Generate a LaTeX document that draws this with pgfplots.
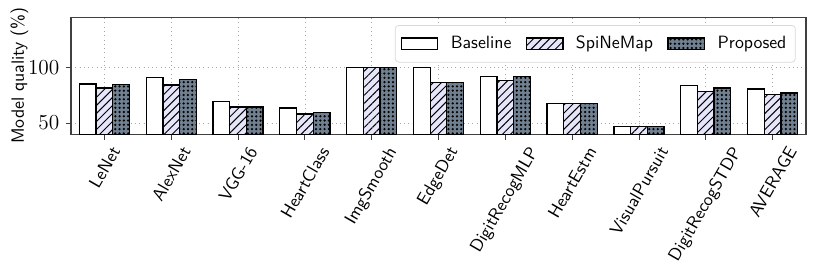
\documentclass[border=0pt]{standalone}
\usepackage{pgfplots}
\pgfplotsset{compat=1.18}
\usetikzlibrary{patterns.meta}
\definecolor{lav}{RGB}{230,230,250}
\definecolor{slate}{RGB}{112,128,144}
\definecolor{framec}{RGB}{64,64,64}
\begin{document}
\begin{tikzpicture}
\begin{axis}[
  scale only axis,
  width=413pt, height=65.8pt,
  ybar=0pt, bar width=0.25,
  xmin=-0.5, xmax=10.5,
  ymin=40, ymax=145,
  ytick={50,100},
  yticklabel style={font=\fontsize{11.5}{13}\selectfont},
  xtick={0,...,10},
  xticklabels={\rotatebox{60}{LeNet},\rotatebox{60}{AlexNet},\rotatebox{60}{VGG-16},\rotatebox{60}{HeartClass},\rotatebox{60}{ImgSmooth},\rotatebox{60}{EdgeDet},\rotatebox{60}{DigitRecogMLP},\rotatebox{60}{HeartEstm},\rotatebox{60}{VisualPursuit},\rotatebox{60}{DigitRecogSTDP},\rotatebox{60}{AVERAGE}},
  xticklabel style={font=\sffamily, anchor=north, inner sep=0pt, yshift=-3pt},
  tick align=outside, tick pos=left,
  major tick length=3pt,
  tick style={framec, line width=0.5pt},
  axis line style={framec, line width=0.6pt},
  grid=major,
  grid style={dotted, gray!70, line width=0.4pt},
  ylabel={\sffamily Model quality (\%)},
  ylabel style={yshift=-7pt},
  legend style={at={(0.986,0.932)}, anchor=north east, legend columns=3,
    draw=gray!30, rounded corners=2pt, font=\sffamily,
    /tikz/every odd column/.append style={column sep=5pt},
    /tikz/every even column/.append style={column sep=6pt},
    inner xsep=3pt, inner ysep=4pt},
  legend image code/.code={\draw[#1, sharp corners] (0pt,-3.2pt) rectangle (20.5pt,3.2pt);},
]
\addplot[draw=black, line width=0.7pt, fill=white] coordinates {
(0,85) (1,90.7) (2,69.4) (3,63.4) (4,100) (5,100) (6,91.6) (7,67.5) (8,47) (9,83.6) (10,80.4)};
\addplot[draw=black, line width=0.7pt, fill=lav, postaction={pattern={Lines[angle=45,distance=3.2pt,line width=0.55pt]}, pattern color=black}] coordinates {
(0,81.5) (1,84.2) (2,64.3) (3,58) (4,100) (5,86) (6,87.8) (7,67.5) (8,47) (9,78.6) (10,75.5)};
\addplot[draw=black, line width=0.7pt, fill=slate, postaction={pattern={Dots[distance=2.4pt,radius=0.7pt]}, pattern color=black}] coordinates {
(0,84.5) (1,88.7) (2,64.3) (3,59.2) (4,100) (5,86) (6,91.6) (7,67.5) (8,47) (9,81.5) (10,77)};
\legend{Baseline,SpiNeMap,Proposed}
\end{axis}
\pgfresetboundingbox
\path[use as bounding box] ([shift={(-39.9pt,-78.75pt)}]current axis.south west) rectangle ([shift={(9pt,9.6pt)}]current axis.north east);
\end{tikzpicture}
\end{document}
